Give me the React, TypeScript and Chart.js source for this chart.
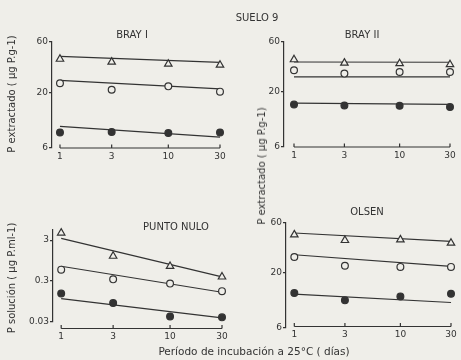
import { useEffect, useRef } from "react";
import { Chart, registerables } from "chart.js";

Chart.register(...registerables);

// ---------- data ----------
const DAYS = [1, 3, 10, 30];
const FIT_DAYS = [1, 30];

const EXTRACT_TICKS = [6, 20, 60];
const SOLUTION_TICKS = [0.03, 0.3, 3];

// BRAY I
const BRAY1_TRI = [41.4, 38.9, 37.2, 36.4];
const BRAY1_TRI_FIT = [44, 38.6];
const BRAY1_CIRC = [24.5, 21.3, 22.9, 20.4];
const BRAY1_CIRC_FIT = [26.1, 21.7];
const BRAY1_FILL = [8.4, 8.5, 8.3, 8.4];
const BRAY1_FILL_FIT = [9.6, 7.6];

// BRAY II
const BRAY2_TRI = [40.8, 37.9, 37.4, 36.6];
const BRAY2_TRI_FIT = [38.7, 38.5];
const BRAY2_CIRC = [32.3, 30.0, 31.1, 31.1];
const BRAY2_CIRC_FIT = [27.9, 27.9];
const BRAY2_FILL = [15.2, 14.9, 14.8, 14.4];
const BRAY2_FILL_FIT = [15.7, 15.3];

// PUNTO NULO
const PN_TRI = [4.5, 1.22, 0.69, 0.38];
const PN_TRI_FIT = [3.3, 0.38];
const PN_CIRC = [0.57, 0.33, 0.26, 0.17];
const PN_CIRC_FIT = [0.69, 0.16];
const PN_FILL = [0.148, 0.087, 0.041, 0.039];
const PN_FILL_FIT = [0.112, 0.038];

// OLSEN
const OLSEN_TRI = [46.4, 41.0, 41.6, 38.7];
const OLSEN_TRI_FIT = [48.2, 40.1];
const OLSEN_CIRC = [28.5, 23.5, 22.9, 22.9];
const OLSEN_CIRC_FIT = [29.9, 23.2];
const OLSEN_FILL = [12.9, 11.0, 12.0, 12.7];
const OLSEN_FILL_FIT = [12.6, 10.5];

// ---------- style ----------
const INK = "#333333";
const PAPER = "#efeee9";
const FONT = "'DejaVu Sans', sans-serif";
const W = 461;
const H = 360;
const Y_W = 30;
const X_H = 22;

type Series = { values: number[]; fit: number[]; kind: "tri" | "circ" | "fill" };
type Panel = {
  area: { left: number; top: number; right: number; bottom: number };
  yMin: number;
  yMax: number;
  yTicks: number[];
  xMin: number;
  lineOffset: number;
  series: Series[];
};

const PANELS: Panel[] = [
  {
    area: { left: 52, top: 42, right: 220, bottom: 148 },
    yMin: 6, yMax: 60, yTicks: EXTRACT_TICKS, xMin: 0.844, lineOffset: 0,
    series: [
      { values: BRAY1_TRI, fit: BRAY1_TRI_FIT, kind: "tri" },
      { values: BRAY1_CIRC, fit: BRAY1_CIRC_FIT, kind: "circ" },
      { values: BRAY1_FILL, fit: BRAY1_FILL_FIT, kind: "fill" },
    ],
  },
  {
    area: { left: 284, top: 42, right: 450, bottom: 147 },
    yMin: 6, yMax: 60, yTicks: EXTRACT_TICKS, xMin: 0.804, lineOffset: 0,
    series: [
      { values: BRAY2_TRI, fit: BRAY2_TRI_FIT, kind: "tri" },
      { values: BRAY2_CIRC, fit: BRAY2_CIRC_FIT, kind: "circ" },
      { values: BRAY2_FILL, fit: BRAY2_FILL_FIT, kind: "fill" },
    ],
  },
  {
    area: { left: 53, top: 230, right: 222, bottom: 322 },
    yMin: 0.03, yMax: 5.3, yTicks: SOLUTION_TICKS, xMin: 0.841, lineOffset: 6.5,
    series: [
      { values: PN_TRI, fit: PN_TRI_FIT, kind: "tri" },
      { values: PN_CIRC, fit: PN_CIRC_FIT, kind: "circ" },
      { values: PN_FILL, fit: PN_FILL_FIT, kind: "fill" },
    ],
  },
  {
    area: { left: 286, top: 223, right: 451, bottom: 328 },
    yMin: 6, yMax: 60, yTicks: EXTRACT_TICKS, xMin: 0.835, lineOffset: -1.5,
    series: [
      { values: OLSEN_TRI, fit: OLSEN_TRI_FIT, kind: "tri" },
      { values: OLSEN_CIRC, fit: OLSEN_CIRC_FIT, kind: "circ" },
      { values: OLSEN_FILL, fit: OLSEN_FILL_FIT, kind: "fill" },
    ],
  },
];

const bracketPlugin = {
  id: "bracket",
  afterDatasetsDraw(chart: any, _args: any, opts: any) {
    const xs = chart.scales.x;
    const ctx = chart.ctx;
    const y = chart.chartArea.bottom + (opts.offset || 0);
    ctx.save();
    ctx.strokeStyle = INK;
    ctx.lineWidth = 1.2;
    ctx.beginPath();
    ctx.moveTo(xs.getPixelForValue(DAYS[0]), y);
    ctx.lineTo(xs.getPixelForValue(DAYS[DAYS.length - 1]), y);
    DAYS.forEach((d) => {
      const px = xs.getPixelForValue(d);
      ctx.moveTo(px, y);
      ctx.lineTo(px, y - 3.5);
    });
    ctx.stroke();
    ctx.restore();
  },
};

function makeConfig(p: Panel): any {
  const datasets: any[] = [];
  p.series.forEach((s) => {
    datasets.push({
      data: DAYS.map((d, i) => ({ x: d, y: s.values[i] })),
      showLine: false,
      pointStyle: s.kind === "tri" ? "triangle" : "circle",
      pointRadius: s.kind === "tri" ? 4.3 : 3.4,
      pointBorderWidth: 1.2,
      pointBorderColor: INK,
      pointBackgroundColor: s.kind === "fill" ? INK : PAPER,
      clip: false,
      order: 0,
    });
    datasets.push({
      data: FIT_DAYS.map((d, i) => ({ x: d, y: s.fit[i] })),
      showLine: true,
      borderColor: INK,
      borderWidth: 1.2,
      pointRadius: 0,
      clip: false,
      order: 1,
    });
  });
  return {
    type: "scatter",
    data: { datasets },
    plugins: [bracketPlugin],
    options: {
      responsive: false,
      animation: false,
      events: [],
      layout: {
        padding: {
          left: p.area.left - Y_W,
          top: p.area.top,
          right: W - p.area.right,
          bottom: H - p.area.bottom - X_H,
        },
      },
      plugins: {
        legend: { display: false },
        tooltip: { enabled: false },
        bracket: { offset: p.lineOffset },
      },
      scales: {
        x: {
          type: "logarithmic",
          min: p.xMin,
          max: 30,
          afterBuildTicks: (s: any) => {
            s.ticks = DAYS.map((v) => ({ value: v }));
          },
          afterFit: (s: any) => {
            s.height = X_H;
          },
          grid: { display: false, drawTicks: false },
          border: { display: false },
          ticks: {
            autoSkip: false,
            maxRotation: 0,
            padding: 3 + p.lineOffset,
            color: INK,
            font: { family: FONT, size: 9 },
            callback: (v: any) => String(v),
          },
        },
        y: {
          type: "logarithmic",
          min: p.yMin,
          max: p.yMax,
          afterBuildTicks: (s: any) => {
            s.ticks = p.yTicks.map((v) => ({ value: v }));
          },
          afterFit: (s: any) => {
            s.width = Y_W;
          },
          grid: {
            display: true,
            drawOnChartArea: false,
            drawTicks: true,
            tickLength: 3,
            color: INK,
            lineWidth: 1.2,
          },
          border: { display: true, color: INK, width: 1.2 },
          ticks: {
            autoSkip: false,
            padding: 1,
            color: INK,
            font: { family: FONT, size: 9 },
            callback: (v: any) => String(v),
          },
        },
      },
    },
  };
}

const textBase: any = {
  position: "absolute",
  whiteSpace: "nowrap",
  color: INK,
  fontFamily: FONT,
  lineHeight: 1,
};

function Label(props: { x: number; y: number; size: number; rotate?: boolean; text: string }) {
  return (
    <div
      style={{
        ...textBase,
        left: props.x,
        top: props.y,
        fontSize: props.size,
        transform: `translate(-50%, -50%)${props.rotate ? " rotate(-90deg)" : ""}`,
      }}
    >
      {props.text}
    </div>
  );
}

export default function App() {
  const refs = useRef<(HTMLCanvasElement | null)[]>([]);

  useEffect(() => {
    const charts = PANELS.map((p, i) => new Chart(refs.current[i] as HTMLCanvasElement, makeConfig(p)));
    return () => charts.forEach((c) => c.destroy());
  }, []);

  return (
    <div
      style={{
        position: "fixed",
        left: 0,
        top: 0,
        width: W,
        height: H,
        background: PAPER,
        overflow: "hidden",
      }}
    >
      {PANELS.map((_, i) => (
        <canvas
          key={i}
          width={W}
          height={H}
          ref={(el) => {
            refs.current[i] = el;
          }}
          style={{ position: "absolute", left: 0, top: 0, width: W, height: H }}
        />
      ))}
      <Label x={257} y={18} size={10} text="SUELO 9" />
      <Label x={132} y={35} size={10} text="BRAY I" />
      <Label x={362} y={35} size={10} text="BRAY II" />
      <Label x={176} y={227} size={10} text="PUNTO NULO" />
      <Label x={367} y={212} size={10} text="OLSEN" />
      <Label x={12} y={94} size={10} rotate text="P extractado ( µg P.g-1)" />
      <Label x={262} y={166} size={10} rotate text="P extractado ( µg P.g-1)" />
      <Label x={12} y={278} size={10} rotate text="P solución ( µg P.ml-1)" />
      <Label x={254} y={351} size={10.5} text="Período de incubación a 25°C ( días)" />
    </div>
  );
}
